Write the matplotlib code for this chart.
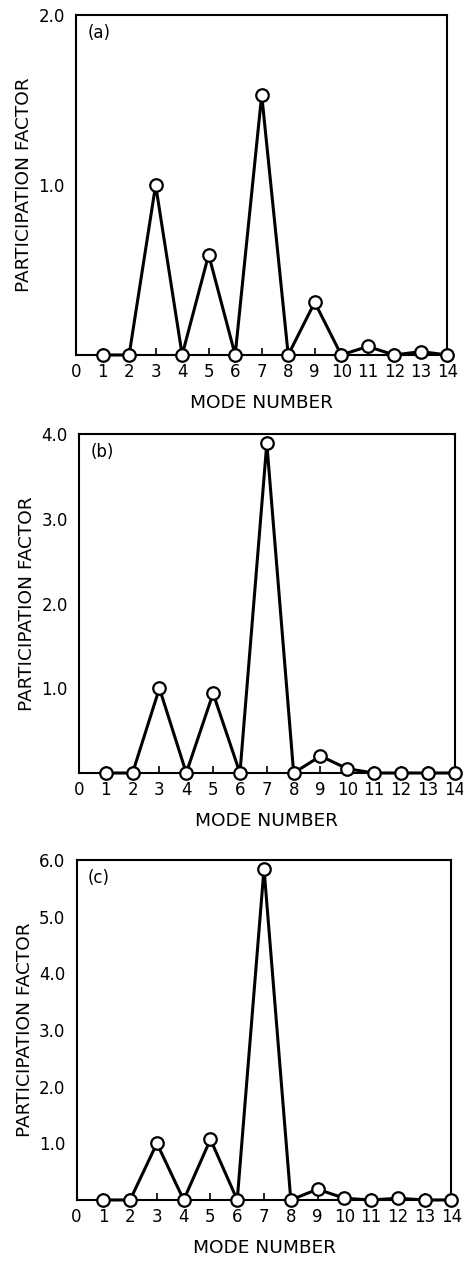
import matplotlib
matplotlib.use("Agg")
import matplotlib.pyplot as plt

modes = list(range(1, 15))
pf_a = [0.0, 0.0, 1.0, 0.0, 0.59, 0.0, 1.53, 0.0, 0.31, 0.0, 0.05, 0.0, 0.02, 0.0]
pf_b = [0.0, 0.0, 1.0, 0.0, 0.94, 0.0, 3.89, 0.0, 0.20, 0.05, 0.0, 0.0, 0.0, 0.0]
pf_c = [0.0, 0.0, 1.0, 0.0, 1.07, 0.0, 5.85, 0.0, 0.19, 0.03, 0.0, 0.03, 0.0, 0.0]
panel_labels = ["(a)", "(b)", "(c)"]
ymaxes = [2.0, 4.0, 6.0]
xticks = list(range(0, 15))
series = [pf_a, pf_b, pf_c]

plt.rcParams['font.family'] = ['DejaVu Sans']

fig = plt.figure(figsize=(4.64, 12.61), dpi=100)
rects = [
    [0.164, 0.7185, 0.800, 0.2696],
    [0.170, 0.3870, 0.810, 0.2688],
    [0.165, 0.0484, 0.808, 0.2696],
]

for rect, vals, lab, ymax in zip(rects, series, panel_labels, ymaxes):
    ax = fig.add_axes(rect)
    ax.plot(modes, vals, color='black', lw=2.2, marker='o', markersize=9,
            markerfacecolor='white', markeredgecolor='black', markeredgewidth=1.6,
            clip_on=False, zorder=3)
    ax.set_xlim(0, 14)
    ax.set_ylim(0, ymax)
    ax.set_xticks(xticks)
    ax.set_xticklabels([str(t) for t in xticks], fontsize=12)
    yt = [float(v) for v in range(1, int(ymax) + 1)]
    ax.set_yticks(yt)
    ax.set_yticklabels([f"{v:.1f}" for v in yt], fontsize=12)
    ax.tick_params(axis='x', direction='in', length=5, width=1.2, pad=6)
    ax.tick_params(axis='y', direction='in', length=0, pad=8)
    for s in ax.spines.values():
        s.set_linewidth(1.5)
    ax.set_xlabel("MODE NUMBER", fontsize=13.3, labelpad=9)
    ax.set_ylabel("PARTICIPATION FACTOR", fontsize=13.3, labelpad=4)
    ax.text(0.03, 0.947, lab, transform=ax.transAxes, fontsize=12,
            ha='left', va='center')

fig.savefig("out.png", dpi=100)
